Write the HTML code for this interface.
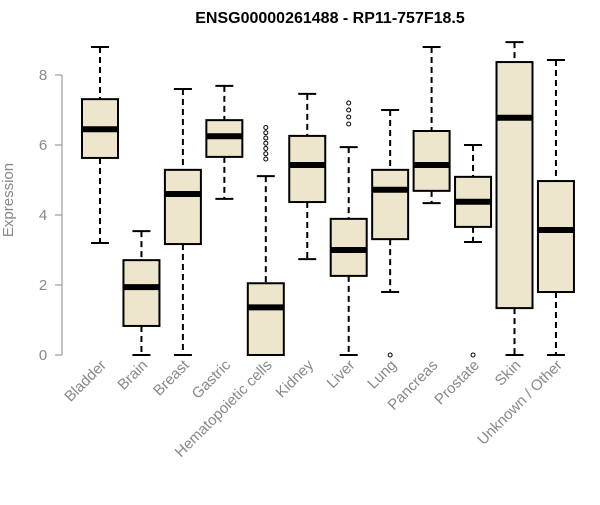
<!DOCTYPE html>
<html><head><meta charset="utf-8"><style>
body{margin:0;background:#fff;}
svg text{font-family:"Liberation Sans",Arial,sans-serif;}
</style></head><body>
<svg id="chart" width="600" height="500" xmlns="http://www.w3.org/2000/svg">
<text x="330" y="23" text-anchor="middle" font-weight="bold" font-size="16">ENSG00000261488 - RP11-757F18.5</text>
<text transform="translate(13,200) rotate(-90)" text-anchor="middle" font-size="15" fill="#888">Expression</text>
<g id="yaxis"></g>
<g id="boxes"></g>
<g id="xlabels"></g>
</svg>
<script>
const categories=["Bladder","Brain","Breast","Gastric","Hematopoietic cells","Kidney","Liver","Lung","Pancreas","Prostate","Skin","Unknown / Other"];
const whiskerLow=[3.2,0,0,4.46,0,2.74,0,1.8,4.34,3.23,0,0];
const q1=[5.63,0.83,3.17,5.66,0,4.37,2.26,3.31,4.69,3.66,1.34,1.8];
const medians=[6.45,1.94,4.6,6.25,1.36,5.43,3.0,4.72,5.43,4.38,6.78,3.57];
const q3=[7.31,2.71,5.29,6.71,2.05,6.26,3.89,5.29,6.4,5.09,8.37,4.97];
const whiskerHigh=[8.8,3.54,7.6,7.69,5.11,7.46,5.94,7.0,8.8,6.0,8.94,8.43];
const outliers=[[],[],[],[],[5.6,5.75,5.9,6.05,6.2,6.35,6.5],[],[6.6,6.8,7.0,7.2],[0],[],[0],[],[]];
const yTicks=[0,2,4,6,8];
const NS="http://www.w3.org/2000/svg";
const y=v=>355-v*35;
const x=i=>100+i*41.45;
function mk(t,a,p){const e=document.createElementNS(NS,t);for(const k in a)e.setAttribute(k,a[k]);p.appendChild(e);return e;}
const ya=document.getElementById('yaxis');
const axl=mk('line',{x1:62,x2:62,y1:y(0),y2:y(8),stroke:'#888'},ya);


yTicks.forEach(t=>{
 const l=mk('line',{x1:55,x2:62,y1:y(t),y2:y(t),stroke:'#888'},ya);
 
 
 const tx=mk('text',{x:43,y:y(t)+5,'text-anchor':'middle','font-size':15,fill:'#888'},ya);
 tx.textContent=t;
 
 
});
const bx=document.getElementById('boxes');
const xl=document.getElementById('xlabels');
categories.forEach((c,i)=>{
 const cx=x(i),w=18;
 const g=mk('g',{},bx);
 
 
 mk('line',{x1:cx,x2:cx,y1:y(whiskerHigh[i]),y2:y(q3[i]),stroke:'#000','stroke-width':2,'stroke-dasharray':'6,4'},g);
 mk('line',{x1:cx,x2:cx,y1:y(q1[i]),y2:y(whiskerLow[i]),stroke:'#000','stroke-width':2,'stroke-dasharray':'6,4'},g);
 mk('line',{x1:cx-9,x2:cx+9,y1:y(whiskerHigh[i]),y2:y(whiskerHigh[i]),stroke:'#000','stroke-width':2},g);
 mk('line',{x1:cx-9,x2:cx+9,y1:y(whiskerLow[i]),y2:y(whiskerLow[i]),stroke:'#000','stroke-width':2},g);
 mk('rect',{x:cx-w,y:y(q3[i]),width:2*w,height:y(q1[i])-y(q3[i]),fill:'#ede6cd',stroke:'#000','stroke-width':2},g);
 mk('line',{x1:cx-w,x2:cx+w,y1:y(medians[i]),y2:y(medians[i]),stroke:'#000','stroke-width':6},g);
 outliers[i].forEach(o=>mk('circle',{cx:cx,cy:y(o),r:2,fill:'none',stroke:'#000'},g));
 const t=mk('text',{transform:`translate(${cx+7},366) rotate(-45)`,'text-anchor':'end','font-size':15,fill:'#888'},xl);
 t.textContent=c;
 
 
});
</script>
</body></html>
